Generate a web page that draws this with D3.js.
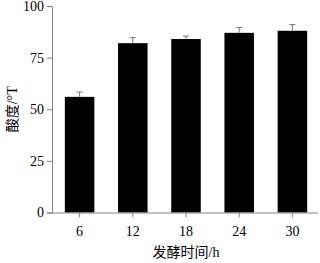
<!DOCTYPE html>
<html>
<head>
<meta charset="utf-8">
<script src="https://cdn.jsdelivr.net/npm/d3@7"></script>
<style>
body { margin: 0; background: #fff; }
text { font-family: "Liberation Serif", "Noto Sans CJK SC", serif; fill: #000; }
</style>
</head>
<body>
<div id="chart-area"></div>
<script>
// data
const hours = ["6", "12", "18", "24", "30"]
const acidity = [56, 82, 84, 87, 88]
const errors = [2.3, 2.7, 1.4, 2.6, 3.0]
const yTicks = [0, 25, 50, 75, 100]

const W = 320, H = 263
const MARGIN = { LEFT: 52, RIGHT: 1, TOP: 6, BOTTOM: 51 }

const svg = d3.select("#chart-area").append("svg")
	.attr("width", W)
	.attr("height", H)

const x = d3.scaleBand()
	.domain(hours)
	.range([MARGIN.LEFT + 1, W - MARGIN.RIGHT])
	.paddingInner(0.445)
	.paddingOuter(0.2225)

const y = d3.scaleLinear()
	.domain([0, 100])
	.range([H - MARGIN.BOTTOM + 0.5, MARGIN.TOP])

const axisColor = "#808080"

// bars
svg.selectAll(".bar")
	.data(acidity)
	.enter().append("rect")
	.attr("class", "bar")
	.attr("x", (d, i) => x(hours[i]))
	.attr("width", x.bandwidth())
	.attr("y", d => y(d))
	.attr("height", d => y(0) - y(d))
	.attr("fill", "#000")

// error bars (upper only)
const eb = svg.selectAll(".err")
	.data(acidity)
	.enter().append("g")
	.attr("class", "err")
	.attr("stroke", "#777")
	.attr("stroke-width", 1)
eb.append("line")
	.attr("x1", (d, i) => x(hours[i]) + x.bandwidth() / 2)
	.attr("x2", (d, i) => x(hours[i]) + x.bandwidth() / 2)
	.attr("y1", d => y(d))
	.attr("y2", (d, i) => y(d + errors[i]))
eb.append("line")
	.attr("x1", (d, i) => x(hours[i]) + x.bandwidth() / 2 - 3)
	.attr("x2", (d, i) => x(hours[i]) + x.bandwidth() / 2 + 3)
	.attr("y1", (d, i) => y(d + errors[i]))
	.attr("y2", (d, i) => y(d + errors[i]))

// axes
const yAxis = svg.append("g")
	.attr("transform", `translate(${MARGIN.LEFT}, 0)`)
	.call(d3.axisLeft(y).tickValues(yTicks).tickSize(5).tickSizeOuter(0).tickPadding(3))
const xAxis = svg.append("g")
	.attr("transform", `translate(0, ${y(0)})`)
	.call(d3.axisBottom(x).tickSize(5).tickSizeOuter(0).tickPadding(9))

xAxis.select(".domain").attr("d", `M${MARGIN.LEFT - 5},0.5H${W - 2}`)

svg.selectAll(".domain, .tick line").attr("stroke", axisColor)
svg.selectAll(".tick text")
	.attr("font-size", "14px")
	.attr("font-family", "Liberation Serif")
	.attr("fill", "#000")

// axis labels
svg.append("text")
	.attr("x", 186)
	.attr("y", 257)
	.attr("text-anchor", "middle")
	.attr("font-size", "14px")
	.text("发酵时间/h")

svg.append("text")
	.attr("transform", "rotate(-90)")
	.attr("x", -(MARGIN.TOP + y(0)) / 2)
	.attr("y", 17)
	.attr("text-anchor", "middle")
	.attr("font-size", "14px")
	.text("酸度/°T")
</script>
</body>
</html>
